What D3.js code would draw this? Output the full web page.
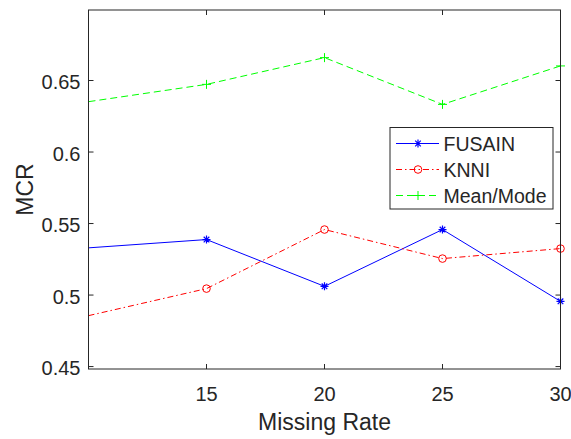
<!DOCTYPE html>
<html>
<head>
<meta charset="utf-8">
<script src="https://cdn.jsdelivr.net/npm/d3@7"></script>
<style>
body { margin: 0; background: #fff; }
text { font-family: "Liberation Sans", Arial, sans-serif; fill: #262626; }
</style>
</head>
<body>
<div id="chart"></div>
<script>
const missingRate = [10, 15, 20, 25, 30];
const fusain = [0.533, 0.5388, 0.5061, 0.5458, 0.4956];
const knni = [0.4856, 0.5045, 0.5458, 0.5255, 0.5325];
const meanMode = [0.6352, 0.6473, 0.666, 0.6333, 0.6602];
const xTicks = [15, 20, 25, 30];
const yTicks = [0.45, 0.5, 0.55, 0.6, 0.65];

const width = 571, height = 439;
const plotLeft = 88.5, plotRight = 560.5, plotTop = 10, plotBottom = 369;
const axisColor = '#262626';

const svg = d3.select('#chart').append('svg')
    .attr('width', width)
    .attr('height', height);

const x = d3.scaleLinear().domain([10, 30]).range([plotLeft, plotRight]);
const y = d3.scaleLinear().domain([0.4483, 0.6993]).range([plotBottom, plotTop]);

// series
const series = [
    { name: 'FUSAIN', values: fusain, color: '#0000ff', dash: null, marker: 'star' },
    { name: 'KNNI', values: knni, color: '#ff0000', dash: '6,3,1.5,3', marker: 'circle' },
    { name: 'Mean/Mode', values: meanMode, color: '#00ff00', dash: '7,4', marker: 'plus' }
];

const line = d3.line()
    .x(d => x(d[0]))
    .y(d => y(d[1]));

function drawMarker(g, type, color) {
    if (type == 'circle') {
        g.append('circle').attr('r', 3.8).attr('fill', 'none').attr('stroke', color).attr('stroke-width', 1);
    } else if (type == 'plus') {
        g.append('path').attr('d', 'M-4.5,0H4.5M0,-4.5V4.5').attr('stroke', color).attr('stroke-width', 1);
    } else {
        g.append('path')
            .attr('d', 'M-4,0H4M0,-4V4M-2.8,-2.8L2.8,2.8M-2.8,2.8L2.8,-2.8')
            .attr('stroke', color).attr('stroke-width', 1.2);
    }
}

const plot = svg.append('g');
series.forEach(s => {
    const pts = missingRate.map((m, i) => [m, s.values[i]]);
    plot.append('path')
        .attr('d', line(pts))
        .attr('fill', 'none')
        .attr('stroke', s.color)
        .attr('stroke-width', 1)
        .attr('stroke-dasharray', s.dash);
    // the marker sitting on the left axis edge is clipped in the original
    pts.filter(p => p[0] > 10).forEach(p => {
        const g = plot.append('g').attr('transform', `translate(${x(p[0])},${y(p[1])})`);
        drawMarker(g, s.marker, s.color);
    });
});

// axes box with inward ticks
svg.append('rect')
    .attr('x', plotLeft).attr('y', plotTop)
    .attr('width', plotRight - plotLeft).attr('height', plotBottom - plotTop)
    .attr('fill', 'none').attr('stroke', axisColor).attr('stroke-width', 1);

const tickLen = 5;
xTicks.forEach(t => {
    svg.append('line').attr('x1', x(t)).attr('x2', x(t)).attr('y1', plotBottom).attr('y2', plotBottom - tickLen).attr('stroke', axisColor);
    svg.append('line').attr('x1', x(t)).attr('x2', x(t)).attr('y1', plotTop).attr('y2', plotTop + tickLen).attr('stroke', axisColor);
    svg.append('text').attr('x', x(t)).attr('y', 400.5)
        .attr('text-anchor', 'middle').style('font-size', '20px').text(t);
});
yTicks.forEach(t => {
    svg.append('line').attr('x1', plotLeft).attr('x2', plotLeft + tickLen).attr('y1', y(t)).attr('y2', y(t)).attr('stroke', axisColor);
    svg.append('line').attr('x1', plotRight).attr('x2', plotRight - tickLen).attr('y1', y(t)).attr('y2', y(t)).attr('stroke', axisColor);
    svg.append('text').attr('x', 80.5).attr('y', y(t) + 8.5)
        .attr('text-anchor', 'end').style('font-size', '20px').text(d3.format('')(t));
});

// axis labels
svg.append('text')
    .attr('x', (plotLeft + plotRight) / 2).attr('y', 430)
    .attr('text-anchor', 'middle').style('font-size', '23px')
    .text('Missing Rate');
svg.append('text')
    .attr('transform', `translate(33,${(plotTop + plotBottom) / 2}) rotate(-90)`)
    .attr('text-anchor', 'middle').style('font-size', '23px')
    .text('MCR');

// legend
const legend = svg.append('g');
legend.append('rect')
    .attr('x', 390).attr('y', 127.5)
    .attr('width', 163).attr('height', 81.5)
    .attr('fill', '#fff').attr('stroke', axisColor).attr('stroke-width', 1);
series.forEach((s, i) => {
    const ly = 143.5 + i * 26;
    legend.append('line')
        .attr('x1', 396).attr('x2', 439).attr('y1', ly).attr('y2', ly)
        .attr('stroke', s.color).attr('stroke-width', 1)
        .attr('stroke-dasharray', s.dash);
    const g = legend.append('g').attr('transform', `translate(418,${ly})`);
    drawMarker(g, s.marker, s.color);
    legend.append('text')
        .attr('x', 443.5).attr('y', ly + 7)
        .style('font-size', '19.5px').text(s.name);
});
</script>
</body>
</html>
